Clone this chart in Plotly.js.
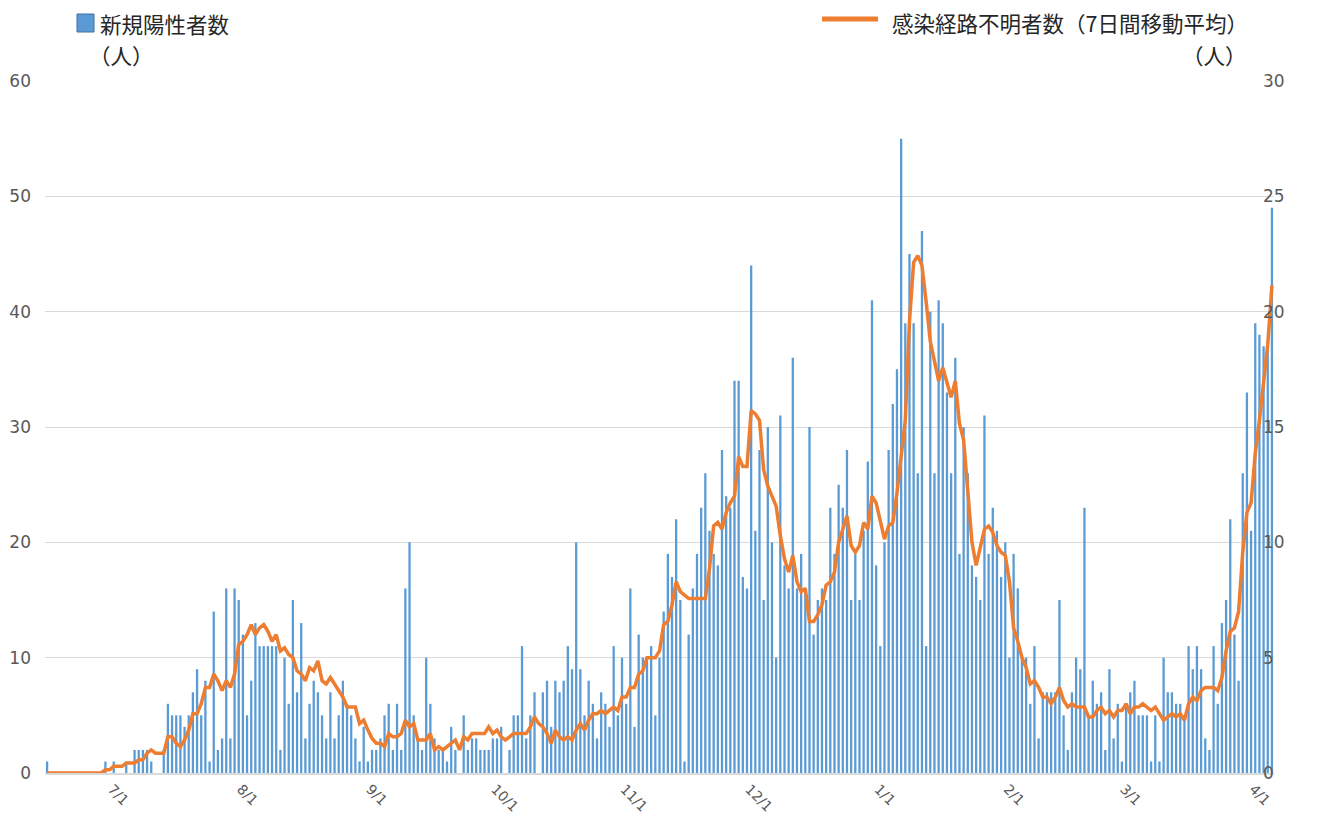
<!DOCTYPE html>
<html>
<head>
<meta charset="utf-8">
<script src="https://cdn.plot.ly/plotly-3.0.1.min.js"></script>
<style>
  html, body { margin: 0; padding: 0; background: #ffffff; }
  #chart { width: 1325px; height: 814px; }
</style>
</head>
<body>
<div id="chart"></div>
<script>
// ---- Data ----
const startDate = '2020-06-14';

// 新規陽性者数 (daily new cases), one array per month
const casesJun = [1,0,0,0,0,0,0,0,0,0,0,0,0,0,1,0,1];            // 6/14 - 6/30
const casesJul = [0,0,1,0,2,2,2,2,1,0,0,2,6,5,5,5,4,5,7,9,5,8,1,14,2,3,16,3,16,15,12];
const casesAug = [5,8,13,11,11,11,11,11,2,10,6,15,7,13,3,6,8,7,5,3,7,3,5,8,6,5,3,1,4,1,2];
const casesSep = [2,3,5,6,2,6,2,16,20,5,3,2,10,6,3,2,2,1,4,2,0,5,2,3,3,2,2,2,3,3];
const casesOct = [4,0,2,5,5,11,3,5,7,0,7,8,4,8,7,8,11,9,20,9,5,8,6,3,7,6,4,11,5,10,6];
const casesNov = [16,4,12,10,10,11,5,10,14,19,17,22,15,1,12,16,19,23,26,21,19,18,28,24,23,34,34,17,16,44];
const casesDec = [21,28,15,30,20,10,31,18,16,36,16,19,16,30,12,15,16,15,23,19,25,23,28,15,19,15,21,27,41,18,11];
const casesJan = [20,28,32,35,55,39,45,39,26,47,11,40,26,41,39,33,26,36,19,30,26,18,17,15,31,19,23,21,17,20,10];
const casesFeb = [19,16,10,10,6,11,3,7,7,7,7,15,5,2,7,10,9,23,5,8,6,7,2,9,3,6,1,6];
const casesMar = [7,8,5,5,5,1,5,1,10,7,7,6,6,5,11,9,11,9,3,2,11,6,13,15,22,12,8,26,33,21,39];
const casesApr = [38,37,37,49];                                     // 4/1 - 4/4

// 感染経路不明者数（7日間移動平均） (right axis), one array per month
const unkJun = [0,0,0,0,0,0,0,0,0,0,0,0,0,0,0.14,0.14,0.29];
const unkJul = [0.29,0.29,0.43,0.43,0.43,0.57,0.57,0.86,1.0,0.86,0.86,0.86,1.57,1.57,1.29,1.14,1.43,1.86,2.57,2.57,3.0,3.71,3.71,4.29,4.0,3.57,4.0,3.71,4.29,5.57,5.71];
const unkAug = [6.0,6.43,6.0,6.29,6.43,6.14,5.71,6.0,5.29,5.43,5.14,5.0,4.43,4.29,4.0,4.57,4.43,4.86,4.0,3.86,4.14,3.86,3.57,3.29,2.86,2.86,2.86,2.14,2.29,1.86,1.5];
const unkSep = [1.29,1.29,1.14,1.71,1.57,1.57,1.71,2.29,2.0,2.14,1.43,1.43,1.43,1.71,1.0,1.14,1.0,1.14,1.29,1.43,1.0,1.57,1.43,1.71,1.71,1.71,1.71,2.0,1.71,1.86];
const unkOct = [1.57,1.43,1.57,1.71,1.71,1.71,1.71,2.0,2.43,2.14,2.0,1.71,1.29,1.86,1.57,1.43,1.57,1.43,1.86,2.14,1.86,2.29,2.57,2.57,2.71,2.57,2.71,2.86,2.71,3.29,3.29];
const unkNov = [3.71,3.71,4.29,4.43,5.0,5.0,5.0,5.29,6.43,6.57,7.29,8.29,7.86,7.71,7.57,7.57,7.57,7.57,7.57,8.86,10.71,10.86,10.57,11.29,11.71,12.0,13.71,13.29,13.29,15.71];
const unkDec = [15.57,15.29,13.14,12.43,12.0,11.57,10.29,9.29,8.71,9.43,8.29,7.86,8.0,6.57,6.57,6.86,7.29,8.14,8.29,8.71,10.0,10.57,11.14,9.86,9.57,9.86,10.86,10.57,12.0,11.71,11.0];
const unkJan = [10.14,10.71,10.86,12.14,13.86,15.29,19.57,22.14,22.43,22.0,20.43,18.71,17.86,17.0,17.57,16.86,16.29,17.0,15.14,14.43,12.14,10.0,9.0,9.71,10.57,10.71,10.43,9.86,9.57,9.43,8.29];
const unkFeb = [6.29,5.71,5.0,4.57,3.86,4.0,3.71,3.29,3.29,3.0,3.29,3.71,3.14,2.86,3.0,2.86,2.86,2.86,2.43,2.43,2.71,2.86,2.57,2.71,2.43,2.71,2.71,3.0];
const unkMar = [2.57,2.86,2.86,3.0,2.86,2.71,2.86,2.57,2.29,2.43,2.57,2.43,2.57,2.29,3.0,3.29,3.14,3.57,3.71,3.71,3.71,3.57,4.14,5.29,6.14,6.29,7.0,9.57,11.29,11.71,13.86];
const unkApr = [15.29,17.0,18.57,21.14];

// x-axis tick labels
const tickDates  = ['2020-07-01','2020-08-01','2020-09-01','2020-10-01','2020-11-01','2020-12-01','2021-01-01','2021-02-01','2021-03-01','2021-04-01'];
const tickLabels = ['7/1','8/1','9/1','10/1','11/1','12/1','1/1','2/1','3/1','4/1'];

// legend / series names
const barName  = '新規陽性者数';
const lineName = '感染経路不明者数（7日間移動平均）';
const unitText = '（人）';

// ---- Build ----
const cases = [].concat(casesJun, casesJul, casesAug, casesSep, casesOct, casesNov, casesDec, casesJan, casesFeb, casesMar, casesApr);
const unknown = [].concat(unkJun, unkJul, unkAug, unkSep, unkOct, unkNov, unkDec, unkJan, unkFeb, unkMar, unkApr);

const dates = [];
const d0 = new Date(startDate + 'T00:00:00Z');
for (let i = 0; i < cases.length; i++) {
  const d = new Date(d0.getTime() + i * 86400000);
  dates.push(d.toISOString().slice(0, 10));
}

const W = 1325, H = 814;
const plotL = 45, plotR = 1274, plotT = 81, plotB = 773;
const px2x = p => (p - plotL) / (plotR - plotL);
const px2y = p => (plotB - p) / (plotB - plotT);

const FONT = '"Noto Sans CJK JP", "Noto Sans", sans-serif';
const TICKFONT = 'DejaVu Sans, "Noto Sans", sans-serif';
const LEGFONT = { family: FONT, size: 21.5, color: '#262626' };

const traces = [
  {
    type: 'bar',
    x: dates,
    y: cases,
    name: barName,
    marker: { color: '#5b9bd5', line: { width: 0 } },
    yaxis: 'y',
    hoverinfo: 'x+y'
  },
  {
    type: 'scatter',
    mode: 'lines',
    x: dates,
    y: unknown,
    name: lineName,
    line: { color: '#ed7d31', width: 3.5 },
    yaxis: 'y2',
    hoverinfo: 'x+y'
  }
];

const layout = {
  width: W, height: H,
  margin: { l: plotL, r: W - plotR, t: plotT, b: H - plotB, pad: 0 },
  paper_bgcolor: '#ffffff',
  plot_bgcolor: '#ffffff',
  showlegend: false,
  bargap: 0.45,
  xaxis: {
    type: 'date',
    range: ['2020-06-13 12:00', dates[dates.length - 1] + ' 12:00'],
    tickmode: 'array',
    tickvals: tickDates,
    ticktext: tickLabels,
    tickangle: 45,
    ticks: '',
    ticklabelshift: -6,
    ticklabelstandoff: 1,
    tickfont: { family: TICKFONT, size: 14, color: '#595959' },
    showgrid: false,
    showline: true,
    linecolor: '#d9d9d9',
    linewidth: 1.5,
    zeroline: false,
    fixedrange: true
  },
  yaxis: {
    range: [0, 60],
    dtick: 10,
    tick0: 0,
    showgrid: true,
    gridcolor: '#d9d9d9',
    gridwidth: 1,
    zeroline: false,
    showline: false,
    ticks: '',
    tickfont: { family: TICKFONT, size: 17, color: '#595959' },
    ticklabelstandoff: 13
  },
  yaxis2: {
    overlaying: 'y',
    side: 'right',
    range: [0, 30],
    dtick: 5,
    tick0: 0,
    showgrid: false,
    zeroline: false,
    showline: false,
    ticks: '',
    tickfont: { family: TICKFONT, size: 17, color: '#595959' },
    ticklabelstandoff: -12
  },
  shapes: [
    { type: 'rect', xref: 'paper', yref: 'paper',
      x0: px2x(77), x1: px2x(94), y0: px2y(32), y1: px2y(14),
      fillcolor: '#5b9bd5', line: { color: '#41719c', width: 1 } },
    { type: 'line', xref: 'paper', yref: 'paper',
      x0: px2x(822), x1: px2x(878), y0: px2y(19), y1: px2y(19),
      line: { color: '#ed7d31', width: 5 } }
  ],
  annotations: [
    { xref: 'paper', yref: 'paper', x: px2x(98), y: px2y(23),
      xanchor: 'left', yanchor: 'middle', align: 'left', showarrow: false,
      text: barName, font: LEGFONT },
    { xref: 'paper', yref: 'paper', x: px2x(87), y: px2y(54),
      xanchor: 'left', yanchor: 'middle', align: 'left', showarrow: false,
      text: unitText, font: LEGFONT },
    { xref: 'paper', yref: 'paper', x: px2x(1250), y: px2y(22),
      xanchor: 'right', yanchor: 'middle', align: 'right', showarrow: false,
      text: lineName, font: LEGFONT },
    { xref: 'paper', yref: 'paper', x: px2x(1249), y: px2y(54),
      xanchor: 'right', yanchor: 'middle', align: 'right', showarrow: false,
      text: unitText, font: LEGFONT }
  ]
};

Plotly.newPlot('chart', traces, layout, { displayModeBar: false, staticPlot: true });
</script>
</body>
</html>
